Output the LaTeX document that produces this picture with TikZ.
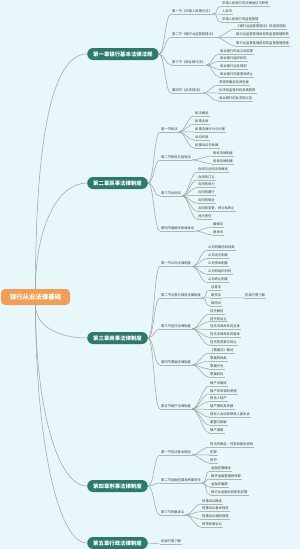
\documentclass[tikz,border=0pt]{standalone}
\usepackage{fontspec}
\setmainfont{Noto Sans CJK SC}
\usetikzlibrary{positioning}
\definecolor{bgcol}{HTML}{E7F7FA}
\definecolor{rootcol}{HTML}{F29E55}
\definecolor{chapcol}{HTML}{2B7A6D}
\definecolor{linkcol}{HTML}{A0A0A0}
\definecolor{ulcol}{HTML}{B4B4B4}
\definecolor{txtcol}{HTML}{3C3C3C}

\begin{document}
\begin{tikzpicture}[x=1pt,y=-1pt,
  rootnode/.style={fill=rootcol,text=white,rounded corners=4pt,minimum width=69pt,minimum height=16pt,inner sep=0pt,font=\fontsize{6.4}{7}\selectfont\bfseries},
  chapnode/.style={anchor=west,fill=chapcol,text=white,rounded corners=6pt,minimum height=12pt,inner xsep=6pt,inner ysep=0pt,font=\fontsize{5.4}{6}\selectfont\bfseries},
  textnode/.style={anchor=west,text=txtcol,inner xsep=1pt,inner ysep=1.2pt,font=\fontsize{3.3}{4}\selectfont,append after command={(\tikzlastnode.south west) edge[draw=ulcol,line width=0.4pt] (\tikzlastnode.south east)}},
  link/.style={draw=linkcol,line width=0.5pt,out=0,in=180,distance=6pt}]
\useasboundingbox[fill=bgcol] (0,0) rectangle (300,549);

% root and chapters
\node[rootnode] (root) at (35.5,297) {银行从业法律基础};
\node[chapnode] (ch1) at (87,54) {第一章银行基本法律法规};
\node[chapnode] (ch2) at (87,183) {第二章民事法律制度};
\node[chapnode] (ch3) at (87,338) {第三章商事法律制度};
\node[chapnode] (ch4) at (87,486) {第四章刑事法律制度};
\node[chapnode] (ch5) at (87,543) {第五章行政法律制度};
\draw[link] (root.north) to[out=90,out distance=150pt,in distance=35pt] (ch1.west);
\draw[link] (root.north) to[out=90,out distance=60pt,in distance=30pt] (ch2.west);
\draw[link] (root.south) to[out=-90,out distance=20pt,in distance=30pt] (ch3.west);
\draw[link] (root.south) to[out=-90,out distance=100pt,in distance=30pt] (ch4.west);
\draw[link] (root.south) to[out=-90,out distance=130pt,in distance=30pt] (ch5.west);

% sections
\node[textnode] (s11) at (171,11) {第一节《中国人民银行法》};
\node[textnode] (s12) at (171,34.5) {第二节《银行业监督管理法》};
\node[textnode] (s13) at (171,62) {第三节《商业银行法》};
\node[textnode] (s14) at (171,90) {第四节《反洗钱法》};
\node[textnode] (s21) at (160,129) {第一节民法};
\node[textnode] (s22) at (160,157) {第二节物权与担保法};
\node[textnode] (s23) at (160,193) {第三节合同法};
\node[textnode] (s24) at (160,228) {第四节婚姻法和继承法};
\node[textnode] (s31) at (160,263.5) {第一节公司法律制度};
\node[textnode] (s32) at (160,295) {第二节证券与保险法律制度};
\node[textnode] (s33) at (160,326) {第三节信托法律制度};
\node[textnode] (s34) at (160,362) {第四节票据法律制度};
\node[textnode] (s35) at (160,406) {第五节破产法律制度};
\node[textnode] (s41) at (160,452) {第一节刑法基本理论};
\node[textnode] (s42) at (160,480) {第二节金融犯罪及刑事责任};
\node[textnode] (s43) at (160,512) {第三节刑事诉讼};
\node[textnode] (s51) at (160,541) {初级只需了解};
\foreach \c/\s in {ch1/s11,ch1/s12,ch1/s13,ch1/s14,ch2/s21,ch2/s22,ch2/s23,ch2/s24,ch3/s31,ch3/s32,ch3/s33,ch3/s34,ch3/s35,ch4/s41,ch4/s42,ch4/s43,ch5/s51}
  {\draw[link] (\c.east) to (\s.south west);}

% leaves
\foreach \t [count=\i] in {中国人民银行的法律地位与职责,人民币,中国人民银行的监督管理}
  {\node[textnode] (l11-\i) at (221,{3.5+7.75*(\i-1)}) {\t}; \draw[link] (s11.south east) to (l11-\i.south west);}
\foreach \t [count=\i] in {《银行业监督管理法》的适用范围,银行业监督管理机构的监督管理职责,银行业监督管理机构的监督管理措施}
  {\node[textnode] (l12-\i) at (235,{26+8.5*(\i-1)}) {\t}; \draw[link] (s12.south east) to (l12-\i.south west);}
\foreach \t [count=\i] in {商业银行的设立和变更,商业银行组织机构,商业银行业务规则,商业银行的接管和终止}
  {\node[textnode] (l13-\i) at (219,{51+7.67*(\i-1)}) {\t}; \draw[link] (s13.south east) to (l13-\i.south west);}
\foreach \t [count=\i] in {洗钱的概念及其危害,反洗钱监管机构及其职责,商业银行的反洗钱义务}
  {\node[textnode] (l14-\i) at (218,{82+8*(\i-1)}) {\t}; \draw[link] (s14.south east) to (l14-\i.south west);}
\foreach \t [count=\i] in {民法概述,民事主体,民事法律行为与代理,诉讼时效,民事诉讼与仲裁}
  {\node[textnode] (l21-\i) at (194,{113+8*(\i-1)}) {\t}; \draw[link] (s21.south east) to (l21-\i.south west);}
\foreach \t [count=\i] in {物权法律制度,担保法律制度}
  {\node[textnode] (l22-\i) at (212,{153+8*(\i-1)}) {\t}; \draw[link] (s22.south east) to (l22-\i.south west);}
\foreach \t [count=\i] in {合同与合同法的概述,合同的订立,合同的效力,合同的履行,合同的保全,合同的变更、转让和终止,违约责任}
  {\node[textnode] (l23-\i) at (197,{169+7.83*(\i-1)}) {\t}; \draw[link] (s23.south east) to (l23-\i.south west);}
\foreach \t [count=\i] in {婚姻法,继承法}
  {\node[textnode] (l24-\i) at (212,{224+8*(\i-1)}) {\t}; \draw[link] (s24.south east) to (l24-\i.south west);}
\foreach \t [count=\i] in {公司的概念和种类,公司设立制度,公司资本制度,公司的组织机构,公司终止制度}
  {\node[textnode] (l31-\i) at (207,{247.5+8*(\i-1)}) {\t}; \draw[link] (s31.south east) to (l31-\i.south west);}
\foreach \t [count=\i] in {证券法,期货法,保险法}
  {\node[textnode] (l32-\i) at (210,{287+8*(\i-1)}) {\t}; \draw[link] (s32.south east) to (l32-\i.south west);}
\node[textnode] (x32) at (244,295) {初级只需了解};
\draw[link] (l32-2.south east) to (x32.south west);
\foreach \t [count=\i] in {信托概述,信托的设立,信托法律关系的主体,信托法律关系的客体,信托的变更与终止}
  {\node[textnode] (l33-\i) at (209,{311+7.75*(\i-1)}) {\t}; \draw[link] (s33.south east) to (l33-\i.south west);}
\foreach \t [count=\i] in {《票据法》概述,票据的种类,票据行为,票据权利}
  {\node[textnode] (l34-\i) at (209,{350+8*(\i-1)}) {\t}; \draw[link] (s34.south east) to (l34-\i.south west);}
\foreach \t [count=\i] in {破产法概述,破产的申请和受理,债务人财产,破产债权及申报,债权人会议和债权人委员会,重整与和解,破产清算}
  {\node[textnode] (l35-\i) at (209,{383+7.8*(\i-1)}) {\t}; \draw[link] (s35.south east) to (l35-\i.south west);}
\foreach \t [count=\i] in {刑法的概念、任务和基本原则,犯罪,刑罚}
  {\node[textnode] (l41-\i) at (209,{444+8*(\i-1)}) {\t}; \draw[link] (s41.south east) to (l41-\i.south west);}
\foreach \t [count=\i] in {金融犯罪概述,破坏金融管理秩序罪,金融诈骗罪,银行业金融机构职务犯罪}
  {\node[textnode] (l42-\i) at (210,{468+8*(\i-1)}) {\t}; \draw[link] (s42.south east) to (l42-\i.south west);}
\foreach \t [count=\i] in {刑事诉讼概述,刑事诉讼基本程序,刑事诉讼强制措施,附带民事诉讼}
  {\node[textnode] (l43-\i) at (201,{501+7.7*(\i-1)}) {\t}; \draw[link] (s43.south east) to (l43-\i.south west);}
\end{tikzpicture}
\end{document}
